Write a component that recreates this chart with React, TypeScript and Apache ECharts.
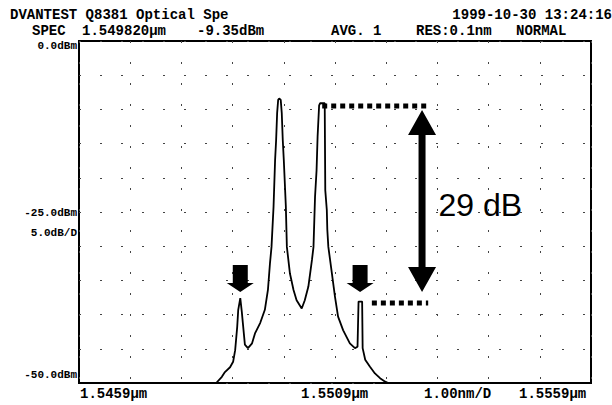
import React, { useEffect, useRef } from "react";
import * as echarts from "echarts";

// Trace: wavelength (µm) and level (dBm)
const wavelengthUm = [
  1.5459, 1.54858, 1.54869, 1.54875, 1.54885, 1.54891, 1.54895, 1.54899, 1.54901, 1.54905,
  1.54908, 1.5491, 1.54914, 1.5492, 1.54928, 1.54934, 1.54944, 1.54953, 1.54959, 1.54963,
  1.54966, 1.5497, 1.54973, 1.54975, 1.54977, 1.54979, 1.54981, 1.54984, 1.54986, 1.54988,
  1.5499, 1.54994, 1.54996, 1.55002, 1.55009, 1.55015, 1.55025, 1.55031, 1.55038, 1.55045,
  1.55048, 1.55051, 1.55054, 1.55056, 1.55059, 1.55061, 1.5507, 1.5507, 1.55071, 1.55074,
  1.55075, 1.55077, 1.55084, 1.5509, 1.55096, 1.55106, 1.55119, 1.55129, 1.55134, 1.55136,
  1.55143, 1.55144, 1.55149, 1.55158, 1.55168, 1.55178, 1.55188, 1.55194, 1.5559,
];
const levelDbm = [
  -50, -50, -49.1, -48.4, -47.7, -46.9, -45.2, -41.8, -39.3, -37.6,
  -39.6, -41.2, -44.4, -44.9, -44.2, -42.7, -41.2, -39.3, -36.4, -32.5,
  -30.1, -24.2, -17.4, -14.5, -10.5, -8.6, -8.4, -8.6, -10.5, -14.5,
  -17.4, -24.2, -30.1, -34.0, -36.4, -37.9, -39.1, -37.9, -35.9, -32.0,
  -30.1, -22.8, -18.9, -14.0, -9.4, -9.1, -9.1, -10.1, -21.8, -24.7,
  -27.6, -30.1, -34.0, -37.4, -40.3, -42.3, -44.2, -44.9, -44.7, -38.1,
  -38.1, -44.9, -46.6, -47.6, -48.6, -49.3, -49.8, -50, -50,
];

// Axis range and labels
const xMin = 1.5459;
const xMax = 1.5559;
const yMin = -50;
const yMax = 0;
const yLabels = ["0.0dBm", "-25.0dBm", "5.0dB/D", "-50.0dBm"];
const xLabels = ["1.5459µm", "1.5509µm", "1.00nm/D", "1.5559µm"];
const headerLine1Left = "DVANTEST Q8381 Optical Spe";
const headerLine1Right = "1999-10-30 13:24:16";
const headerLine2 = ["SPEC", "1.549820µm", "-9.35dBm", "AVG. 1", "RES:0.1nm", "NORMAL"];

// Annotations (data coordinates)
const upperLevel = -9.5;
const lowerLevel = -38.3;
const upperDotFrom = 1.55065;
const lowerDotFrom = 1.55162;
const dotTo = 1.55272;
const arrowX = 1.5526;
const arrowTop = -10.1;
const arrowBottom = -36.7;
const downArrowTips: [number, number][] = [
  [1.54905, -36.7],
  [1.55139, -36.7],
];
const diffLabel = "29 dB";
const diffLabelPos: [number, number] = [1.55292, -24];

const MONO = "'Liberation Mono', 'DejaVu Sans Mono', monospace";

export default function App() {
  const ref = useRef<HTMLDivElement>(null);
  useEffect(() => {
    if (!ref.current) return;
    document.body.style.margin = "0";
    const chart = echarts.init(ref.current, null, { renderer: "svg" });
    const data = wavelengthUm.map((w, i) => [w, levelDbm[i]]);
    const gridLine = { show: true, lineStyle: { color: "#444", width: 1, type: [2, 19] as any } };
    chart.setOption({
      animation: false,
      backgroundColor: "#fff",
      grid: {
        left: 79,
        top: 41,
        right: 21,
        bottom: 22,
        show: true,
        borderColor: "#000",
        borderWidth: 2,
        backgroundColor: "#fff",
      },
      xAxis: [
        {
          type: "value",
          min: xMin,
          max: xMax,
          axisLine: { show: false },
          axisTick: { show: false },
          axisLabel: { show: false },
          splitLine: { show: false },
        },
        {
          type: "value",
          min: 0,
          max: 10,
          interval: 1,
          position: "bottom",
          axisLine: { show: false },
          axisTick: { show: false },
          axisLabel: { show: false },
          splitLine: gridLine,
        },
      ],
      yAxis: {
        type: "value",
        min: yMin,
        max: yMax,
        interval: 5,
        axisLine: { show: false },
        axisTick: { show: false },
        axisLabel: { show: false },
        splitLine: gridLine,
      },
      series: [
        {
          type: "line",
          xAxisIndex: 0,
          yAxisIndex: 0,
          data,
          showSymbol: false,
          lineStyle: { color: "#000", width: 1.8 },
          z: 5,
        },
      ],
    });

    const px = (x: number, y: number) =>
      chart.convertToPixel({ xAxisIndex: 0, yAxisIndex: 0 }, [x, y]) as number[];

    const g: any[] = [];
    const monoText = (text: string, x: number, y: number, size: number, align = "left") => ({
      type: "text",
      x,
      y,
      style: {
        text,
        font: `bold ${size}px ${MONO}`,
        fill: "#000",
        align,
        verticalAlign: "middle",
      },
    });
    // header
    g.push(monoText(headerLine1Left, 10, 15, 14));
    g.push(monoText(headerLine1Right, 612, 15, 14, "right"));
    const h2x = [32, 82, 197, 331, 416, 516];
    headerLine2.forEach((t, i) => g.push(monoText(t, h2x[i], 31, 14)));
    // y labels
    const y0 = px(xMin, 0)[1];
    const y25 = px(xMin, -25)[1];
    const y50 = px(xMin, -50)[1];
    g.push(monoText(yLabels[0], 77, y0 + 5, 11, "right"));
    g.push(monoText(yLabels[1], 77, y25 + 1, 11, "right"));
    g.push(monoText(yLabels[2], 77, y25 + 21, 11, "right"));
    g.push(monoText(yLabels[3], 77, y50 - 8, 11, "right"));
    // x labels
    const xl = [80, 301, 424, 519];
    xLabels.forEach((t, i) => g.push(monoText(t, xl[i], 394, 14)));

    // dotted level lines
    const u1 = px(upperDotFrom, upperLevel);
    const u2 = px(dotTo, upperLevel);
    const l1 = px(lowerDotFrom, lowerLevel);
    const l2 = px(dotTo, lowerLevel);
    const dotStyle = { stroke: "#000", lineWidth: 5, lineDash: [5, 4] };
    g.push({ type: "line", shape: { x1: u1[0], y1: u1[1], x2: u2[0], y2: u2[1] }, style: dotStyle, z: 10 });
    g.push({ type: "line", shape: { x1: l1[0], y1: l1[1], x2: l2[0], y2: l2[1] }, style: dotStyle, z: 10 });

    // double arrow
    const at = px(arrowX, arrowTop);
    const ab = px(arrowX, arrowBottom);
    const ax = at[0];
    const ty = at[1];
    const by = ab[1];
    const hw = 14, hl = 25, sw = 3.5;
    g.push({
      type: "polygon",
      shape: {
        points: [
          [ax, ty], [ax + hw, ty + hl], [ax + sw, ty + hl], [ax + sw, by - hl], [ax + hw, by - hl],
          [ax, by], [ax - hw, by - hl], [ax - sw, by - hl], [ax - sw, ty + hl], [ax - hw, ty + hl],
        ],
      },
      style: { fill: "#000" },
      z: 10,
    });
    // down arrows
    downArrowTips.forEach(([wx, wy]) => {
      const [x, t] = px(wx, wy);
      g.push({
        type: "polygon",
        shape: {
          points: [
            [x - 7.5, t - 27], [x + 7.5, t - 27], [x + 7.5, t - 9], [x + 13.5, t - 9],
            [x, t], [x - 13.5, t - 9], [x - 7.5, t - 9],
          ],
        },
        style: { fill: "#000" },
        z: 10,
      });
    });
    // 29 dB label
    const lp = px(diffLabelPos[0], diffLabelPos[1]);
    g.push({
      type: "text",
      x: lp[0],
      y: lp[1],
      style: {
        text: diffLabel,
        font: "32px 'Liberation Sans', Arial, sans-serif",
        fill: "#000",
        align: "left",
        verticalAlign: "middle",
      },
      z: 10,
    });

    chart.setOption({ graphic: g });
    return () => chart.dispose();
  }, []);
  return (
    <div
      ref={ref}
      style={{ position: "absolute", left: 0, top: 0, width: 612, height: 405 }}
    />
  );
}
